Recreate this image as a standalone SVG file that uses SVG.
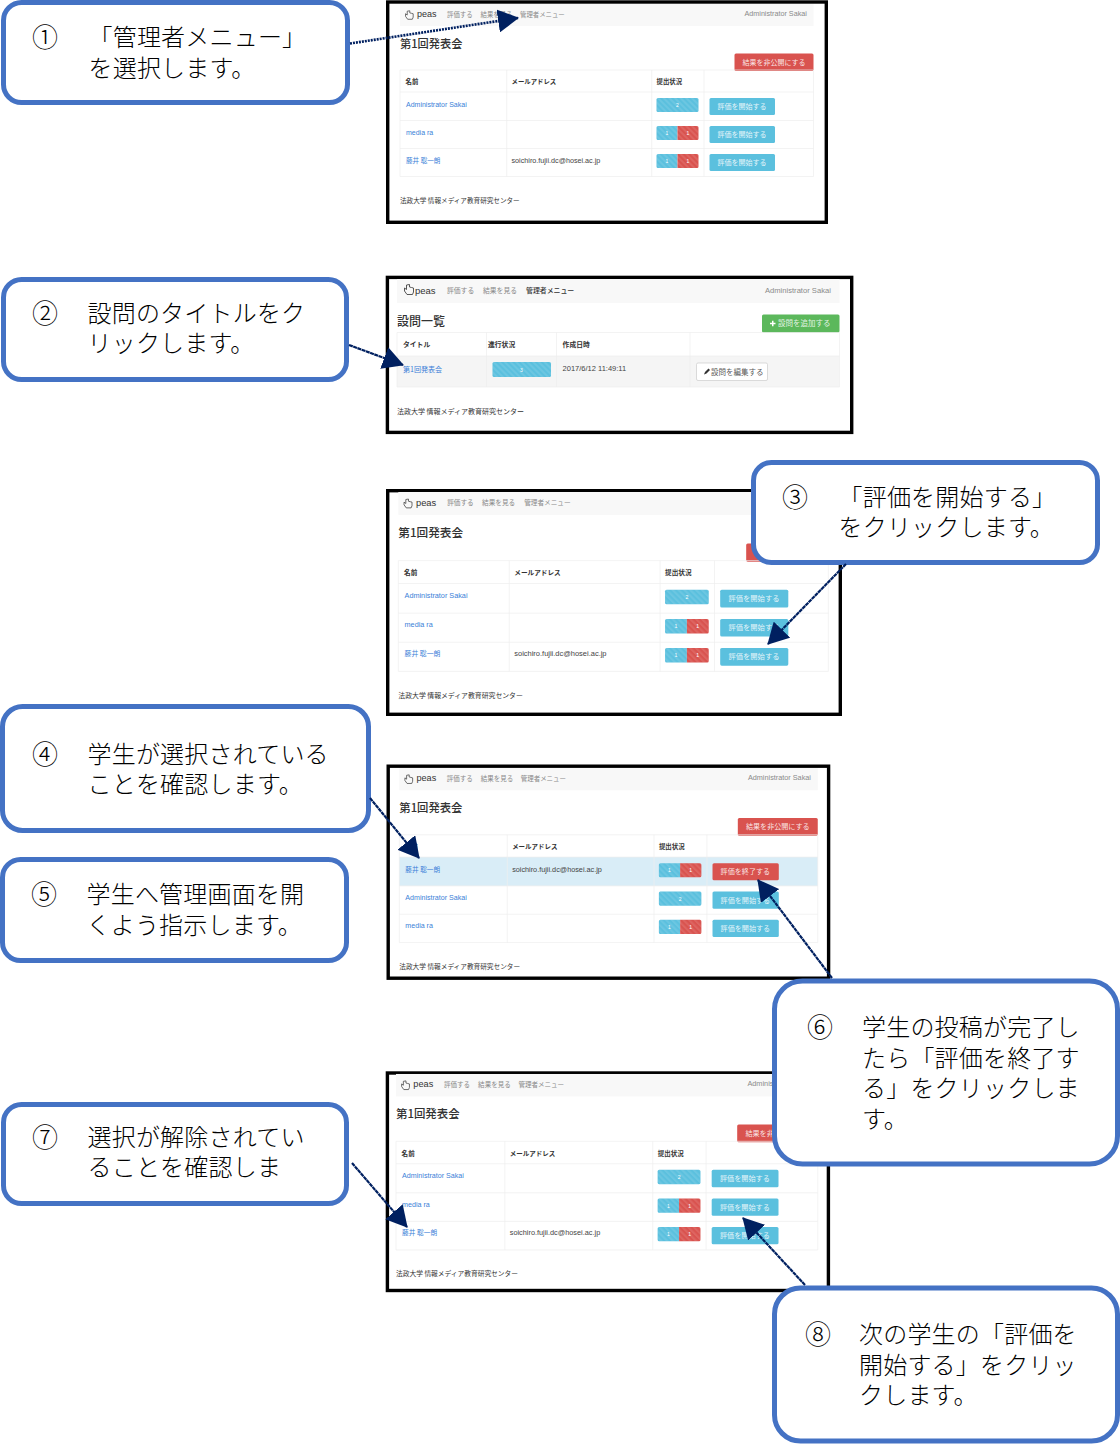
<svg xmlns="http://www.w3.org/2000/svg" width="1120" height="1444" viewBox="0 0 1120 1444">
<style>
text{font-family:"Liberation Sans","Noto Sans CJK JP",sans-serif}
.frame{fill:#fff;stroke:#000;stroke-width:3.4}
.nav{fill:#f8f8f8}
.peas{font-size:9px;font-weight:400;fill:#333}
.navl{font-size:6.4px;fill:#8a8a8a;font-family:"Noto Sans CJK JP",sans-serif}
.navd{font-size:6.6px;fill:#333;font-weight:500;font-family:"Noto Sans CJK JP",sans-serif}
.adm{font-size:7.2px;fill:#8a8a8a}
.h{font-size:11.2px;fill:#333;font-weight:500;font-family:"Noto Sans CJK JP",sans-serif}
.red{fill:#d9534f}.blue{fill:#5bc0de}.green{fill:#5cb85c}
.bl{font-size:7px;fill:#fff;fill-opacity:.85;text-anchor:middle;font-family:"Noto Sans CJK JP",sans-serif}
.num{font-size:5px;fill:#fff;text-anchor:middle}
.th{font-size:6.4px;font-weight:700;fill:#333;font-family:"Noto Sans CJK JP",sans-serif}
.lnk{font-size:7px;fill:#3b7fd8}
.lnkj{font-size:6.6px;fill:#3b7fd8;font-family:"Noto Sans CJK JP",sans-serif}
.td{font-size:7.2px;fill:#444}
.ft{font-size:6.6px;fill:#333;font-family:"Noto Sans CJK JP",sans-serif}
.grid{fill:none;stroke:#eee;stroke-width:.7}
.call{fill:#fff;stroke:#4472c4;stroke-width:5}
.ct{font-size:24px;fill:#000;font-weight:300;letter-spacing:.2px;font-family:"Noto Sans CJK JP",sans-serif}
.cn{font-size:26px;fill:#000;font-weight:300;font-family:"Noto Sans CJK JP",sans-serif}
.icon{fill:none;stroke:#444;stroke-width:.9}
.conn{fill:none;stroke:#002060;stroke-width:2.200;stroke-dasharray:4 .5;marker-end:url(#arrow)}
</style>
<defs>
<pattern id="st" width="4" height="4" patternUnits="userSpaceOnUse" patternTransform="rotate(-45)"><rect width="2" height="4" fill="#fff" fill-opacity=".1"/></pattern>
<marker id="arrow" markerUnits="userSpaceOnUse" markerWidth="21" markerHeight="23" viewBox="0 0 21 23" refX="20" refY="11.500" orient="auto"><path d="M0 0L21 11.500L0 23Z" fill="#002060"/></marker>
<g id="bar2"><rect width="42" height="14" rx="1.500" class="blue"/><rect width="42" height="14" rx="1.500" fill="url(#st)"/></g>
<g id="bar11"><path d="M1.500 0H21V14H1.500A1.500 1.500 0 0 1 0 12.500V1.500A1.500 1.500 0 0 1 1.500 0Z" class="blue"/><path d="M21 0H40.500A1.500 1.500 0 0 1 42 1.500V12.500A1.500 1.500 0 0 1 40.500 14H21Z" class="red"/><rect width="42" height="14" rx="1.500" fill="url(#st)"/></g>
<path id="hand" d="M-1.500 -8V-3.500L-3.500 -5V-2L-1 1.500H4.500L5.500 -1V-5L3.500 -5.500L1.500 -6V-8.500Z"/>
</defs>

<g id="screen1">
<rect class="frame" x="387.700" y="2" width="438.600" height="220.300"/>
<rect class="nav" x="400" y="4" width="413.500" height="22"/>
<use href="#hand" class="icon" transform="translate(408.500 18) scale(.85)"/>
<text class="peas" x="417" y="17">peas</text>
<text class="navl" x="447" y="16.500">評価する</text><text class="navl" x="480.500" y="16.500">結果を見る</text><text class="navl" x="520" y="16.500">管理者メニュー</text>
<text class="adm" x="744.500" y="16">Administrator Sakai</text>
<text class="h" x="400" y="47.500">第1回発表会</text>
<rect class="red" x="734.500" y="53.500" width="79" height="17.500" rx="1.500"/><text class="bl" x="774" y="64.500">結果を非公開にする</text>
<path class="grid" d="M400 70H813.500V176.500H400ZM400 92H813.500M400 120.500H813.500M400 148.500H813.500M506.700 70V176.500M651.700 70V176.500M704 70V176.500"/>
<text class="th" x="405.500" y="84">名前</text><text class="th" x="511.500" y="84">メールアドレス</text><text class="th" x="656.500" y="84">提出状況</text>
<text class="lnk" x="406" y="106.500">Administrator Sakai</text><use href="#bar2" x="656.500" y="98"/><text class="num" x="677.500" y="107">2</text><rect class="blue" x="709.500" y="98" width="65.500" height="17" rx="1.500"/><text class="bl" x="742" y="109">評価を開始する</text>
<text class="lnk" x="406" y="134.500">media ra</text><use href="#bar11" x="656.500" y="126"/><text class="num" x="667" y="135">1</text><text class="num" x="688" y="135">1</text><rect class="blue" x="709.500" y="126" width="65.500" height="17" rx="1.500"/><text class="bl" x="742" y="137">評価を開始する</text>
<text class="lnkj" x="406" y="162.500">藤井 聡一朗</text><text class="td" x="511.500" y="162.500">soichiro.fujii.dc@hosei.ac.jp</text><use href="#bar11" x="656.500" y="154"/><text class="num" x="667" y="163">1</text><text class="num" x="688" y="163">1</text><rect class="blue" x="709.500" y="154" width="65.500" height="17" rx="1.500"/><text class="bl" x="742" y="165">評価を開始する</text>
<text class="ft" x="400" y="203">法政大学 情報メディア教育研究センター</text>
</g>

<g id="screen2">
<rect class="frame" x="387.400" y="277.400" width="464.300" height="155"/>
<rect class="nav" x="397" y="279" width="442.500" height="24"/>
<use href="#hand" class="icon" transform="translate(408 293)"/>
<text class="peas" x="415" y="293.500" style="font-size:9.500px">peas</text>
<text class="navl" x="447" y="292.500" style="font-size:6.800px">評価する</text><text class="navl" x="483" y="292.500" style="font-size:6.800px">結果を見る</text><text class="navd" x="526" y="292.500" style="font-size:6.900px">管理者メニュー</text>
<text class="adm" x="765" y="292.500" style="font-size:7.600px">Administrator Sakai</text>
<text class="h" x="397" y="326" style="font-size:12px">設問一覧</text>
<rect class="green" x="762" y="314.500" width="77.500" height="18" rx="1.500"/>
<path d="M770 323.500H775.500M772.750 320.750V326.250" stroke="#fff" stroke-width="1.500" fill="none"/>
<text class="bl" x="778" y="326" style="font-size:7.500px;text-anchor:start">設問を追加する</text>
<rect x="397" y="356" width="442.500" height="31" fill="#f5f5f5"/>
<path class="grid" d="M397 332.500H839.500M397 356H839.500M397 387H839.500M397 332.500V387M486.500 332.500V387M556.500 332.500V387M690 332.500V387M839.500 332.500V387"/>
<text class="th" x="403" y="347" style="font-size:6.800px">タイトル</text><text class="th" x="488" y="347" style="font-size:6.800px">進行状況</text><text class="th" x="562.600" y="347" style="font-size:6.800px">作成日時</text>
<text class="lnkj" x="403" y="371.500" style="font-size:7px">第1回発表会</text>
<rect class="blue" x="492.500" y="362" width="58.500" height="15" rx="1.500"/><rect x="492.500" y="362" width="58.500" height="15" rx="1.500" fill="url(#st)"/><text class="num" x="521.500" y="371.500">3</text>
<text class="td" x="562.600" y="371" style="font-size:7.500px">2017/6/12 11:49:11</text>
<rect x="696.500" y="363" width="71" height="17.500" rx="1.500" fill="#fff" stroke="#ccc" stroke-width=".7"/>
<path d="M704 374.500L705 372L708.500 368.500L710 370L706.500 373.500Z" fill="#333"/>
<text class="bl" x="711" y="374.500" style="font-size:7.500px;fill:#333;text-anchor:start">設問を編集する</text>
<text class="ft" x="397" y="414" style="font-size:7px">法政大学 情報メディア教育研究センター</text>
</g>

<g id="screen3">
<rect class="frame" x="387.700" y="490.700" width="452.600" height="223.600"/>
<g transform="translate(-17.700 487.840) scale(1.040)">
<rect class="nav" x="400" y="4" width="413.500" height="22"/>
<use href="#hand" class="icon" transform="translate(408.500 18) scale(.85)"/>
<text class="peas" x="417" y="17">peas</text>
<text class="navl" x="447" y="16.500">評価する</text><text class="navl" x="480.500" y="16.500">結果を見る</text><text class="navl" x="521" y="16.500">管理者メニュー</text>
<text class="h" x="400" y="47.500">第1回発表会</text>
<rect class="red" x="734.500" y="53.500" width="79" height="17.500" rx="1.500"/>
<path class="grid" d="M400 70H813.500V176.500H400ZM400 92H813.500M400 120.500H813.500M400 148.500H813.500M506.700 70V176.500M651.700 70V176.500M704 70V176.500"/>
<text class="th" x="405.500" y="84">名前</text><text class="th" x="511.500" y="84">メールアドレス</text><text class="th" x="656.500" y="84">提出状況</text>
<text class="lnk" x="406" y="106">Administrator Sakai</text><use href="#bar2" x="656.500" y="98"/><text class="num" x="677.500" y="107">2</text><rect class="blue" x="709.500" y="98" width="65.500" height="17" rx="1.500"/><text class="bl" x="742" y="109">評価を開始する</text>
<text class="lnk" x="406" y="134">media ra</text><use href="#bar11" x="656.500" y="126"/><text class="num" x="667" y="135">1</text><text class="num" x="688" y="135">1</text><rect class="blue" x="709.500" y="126" width="65.500" height="17" rx="1.500"/><text class="bl" x="742" y="137">評価を開始する</text>
<text class="lnkj" x="406" y="162">藤井 聡一朗</text><text class="td" x="511.500" y="162">soichiro.fujii.dc@hosei.ac.jp</text><use href="#bar11" x="656.500" y="154"/><text class="num" x="667" y="163">1</text><text class="num" x="688" y="163">1</text><rect class="blue" x="709.500" y="154" width="65.500" height="17" rx="1.500"/><text class="bl" x="742" y="165">評価を開始する</text>
<text class="ft" x="400" y="202.500">法政大学 情報メディア教育研究センター</text>
</g>
</g>

<g id="screen4">
<rect class="frame" x="388.200" y="766.200" width="440.400" height="212"/>
<g transform="translate(-5.500 763.950) scale(1.012)">
<rect class="nav" x="400" y="4" width="413.500" height="22"/>
<use href="#hand" class="icon" transform="translate(408.500 18) scale(.85)"/>
<text class="peas" x="417" y="17">peas</text>
<text class="navl" x="447" y="16.500">評価する</text><text class="navl" x="480.500" y="16.500">結果を見る</text><text class="navl" x="520" y="16.500">管理者メニュー</text>
<text class="adm" x="744.500" y="16">Administrator Sakai</text>
<text class="h" x="400" y="47.500">第1回発表会</text>
<rect class="red" x="734.500" y="53.500" width="79" height="17.500" rx="1.500"/><text class="bl" x="774" y="64.500">結果を非公開にする</text>
<rect x="400" y="92" width="413.500" height="28.500" fill="#d9edf7"/>
<path class="grid" d="M400 70H813.500V176.500H400ZM400 92H813.500M400 120.500H813.500M400 148.500H813.500M506.700 70V176.500M651.700 70V176.500M704 70V176.500"/>
<text class="th" x="405.500" y="84">名前</text><text class="th" x="511.500" y="84">メールアドレス</text><text class="th" x="656.500" y="84">提出状況</text>
<text class="lnkj" x="406" y="106.500">藤井 聡一朗</text><text class="td" x="511.500" y="106.500">soichiro.fujii.dc@hosei.ac.jp</text><use href="#bar11" x="656.500" y="98"/><text class="num" x="667" y="107">1</text><text class="num" x="688" y="107">1</text><rect class="red" x="709.500" y="98" width="65.500" height="17" rx="1.500"/><text class="bl" x="742" y="109">評価を終了する</text>
<text class="lnk" x="406" y="134.500">Administrator Sakai</text><use href="#bar2" x="656.500" y="126"/><text class="num" x="677.500" y="135">2</text><rect class="blue" x="709.500" y="126" width="65.500" height="17" rx="1.500"/><text class="bl" x="742" y="137">評価を開始する</text>
<text class="lnk" x="406" y="162.500">media ra</text><use href="#bar11" x="656.500" y="154"/><text class="num" x="667" y="163">1</text><text class="num" x="688" y="163">1</text><rect class="blue" x="709.500" y="154" width="65.500" height="17" rx="1.500"/><text class="bl" x="742" y="165">評価を開始する</text>
<text class="ft" x="400" y="202.500">法政大学 情報メディア教育研究センター</text>
</g>
</g>

<g id="screen5">
<rect class="frame" x="387.400" y="1073" width="441" height="217.500"/>
<g transform="translate(-12 1069.900) scale(1.020)">
<rect class="nav" x="400" y="4" width="413.500" height="22"/>
<use href="#hand" class="icon" transform="translate(408.500 18) scale(.85)"/>
<text class="peas" x="417" y="17">peas</text>
<text class="navl" x="447" y="16.500">評価する</text><text class="navl" x="480.500" y="16.500">結果を見る</text><text class="navl" x="520" y="16.500">管理者メニュー</text>
<text class="adm" x="744.500" y="16">Administrator Sakai</text>
<text class="h" x="400" y="47.500">第1回発表会</text>
<rect class="red" x="734.500" y="53.500" width="79" height="17.500" rx="1.500"/><text class="bl" x="774" y="64.500">結果を非公開にする</text>
<path class="grid" d="M400 70H813.500V176.500H400ZM400 92H813.500M400 120.500H813.500M400 148.500H813.500M506.700 70V176.500M651.700 70V176.500M704 70V176.500"/>
<text class="th" x="405.500" y="84">名前</text><text class="th" x="511.500" y="84">メールアドレス</text><text class="th" x="656.500" y="84">提出状況</text>
<text class="lnk" x="406" y="106">Administrator Sakai</text><use href="#bar2" x="656.500" y="98"/><text class="num" x="677.500" y="107">2</text><rect class="blue" x="709.500" y="98" width="65.500" height="17" rx="1.500"/><text class="bl" x="742" y="109">評価を開始する</text>
<text class="lnk" x="406" y="134">media ra</text><use href="#bar11" x="656.500" y="126"/><text class="num" x="667" y="135">1</text><text class="num" x="688" y="135">1</text><rect class="blue" x="709.500" y="126" width="65.500" height="17" rx="1.500"/><text class="bl" x="742" y="137">評価を開始する</text>
<text class="lnkj" x="406" y="162">藤井 聡一朗</text><text class="td" x="511.500" y="162">soichiro.fujii.dc@hosei.ac.jp</text><use href="#bar11" x="656.500" y="154"/><text class="num" x="667" y="163">1</text><text class="num" x="688" y="163">1</text><rect class="blue" x="709.500" y="154" width="65.500" height="17" rx="1.500"/><text class="bl" x="742" y="165">評価を開始する</text>
<text class="ft" x="400" y="202.500">法政大学 情報メディア教育研究センター</text>
</g>
</g>

<g id="callout1"><rect class="call" x="3.500" y="2.500" width="344" height="100" rx="18"/><text class="cn" x="32" y="47">①</text><text class="ct" x="88.500" y="46">「管理者メニュー」</text><text class="ct" x="88.500" y="77">を選択します。</text></g>
<g id="callout2"><rect class="call" x="3.500" y="279.500" width="343" height="100" rx="18"/><text class="cn" x="32" y="323">②</text><text class="ct" x="87.500" y="322">設問のタイトルをク</text><text class="ct" x="87.500" y="352">リックします。</text></g>
<g id="callout3"><rect class="call" x="753.500" y="462.500" width="344" height="100" rx="18"/><text class="cn" x="782" y="507">③</text><text class="ct" x="838.500" y="506">「評価を開始する」</text><text class="ct" x="838.500" y="536">をクリックします。</text></g>
<g id="callout4"><rect class="call" x="2.500" y="706.500" width="366" height="124" rx="20"/><text class="cn" x="32" y="764">④</text><text class="ct" x="87.500" y="763">学生が選択されている</text><text class="ct" x="87.500" y="793">ことを確認します。</text></g>
<g id="callout5"><rect class="call" x="2.500" y="859.500" width="344" height="101" rx="18"/><text class="cn" x="31" y="904">⑤</text><text class="ct" x="86.500" y="903">学生へ管理画面を開</text><text class="ct" x="86.500" y="934">くよう指示します。</text></g>
<g id="callout6"><rect class="call" x="774.500" y="981" width="343" height="183" rx="28"/><text class="cn" x="807" y="1037">⑥</text><text class="ct" x="862" y="1036">学生の投稿が完了し</text><text class="ct" x="862" y="1067">たら「評価を終了す</text><text class="ct" x="862" y="1097">る」をクリックしま</text><text class="ct" x="862" y="1128">す。</text></g>
<g id="callout7"><rect class="call" x="3.500" y="1104.500" width="343" height="99" rx="18"/><text class="cn" x="32" y="1147">⑦</text><text class="ct" x="87.500" y="1146">選択が解除されてい</text><text class="ct" x="87.500" y="1176">ることを確認しま</text></g>
<g id="callout8"><rect class="call" x="774.500" y="1288" width="343" height="153" rx="26"/><text class="cn" x="805" y="1344">⑧</text><text class="ct" x="859" y="1343">次の学生の「評価を</text><text class="ct" x="859" y="1374">開始する」をクリッ</text><text class="ct" x="859" y="1404">クします。</text></g>

<g id="connectors">
<path class="conn" d="M350 43.500L518 18" style="stroke-dasharray:2 1;stroke-width:2.600"/>
<path class="conn" d="M349 345L403 365"/>
<path class="conn" d="M846 564L768 644"/>
<path class="conn" d="M370 798L419 858"/>
<path class="conn" d="M832 978L758 880"/>
<path class="conn" d="M352 1163L407 1227"/>
<path class="conn" d="M805 1285L743 1218"/>
</g>
</svg>
